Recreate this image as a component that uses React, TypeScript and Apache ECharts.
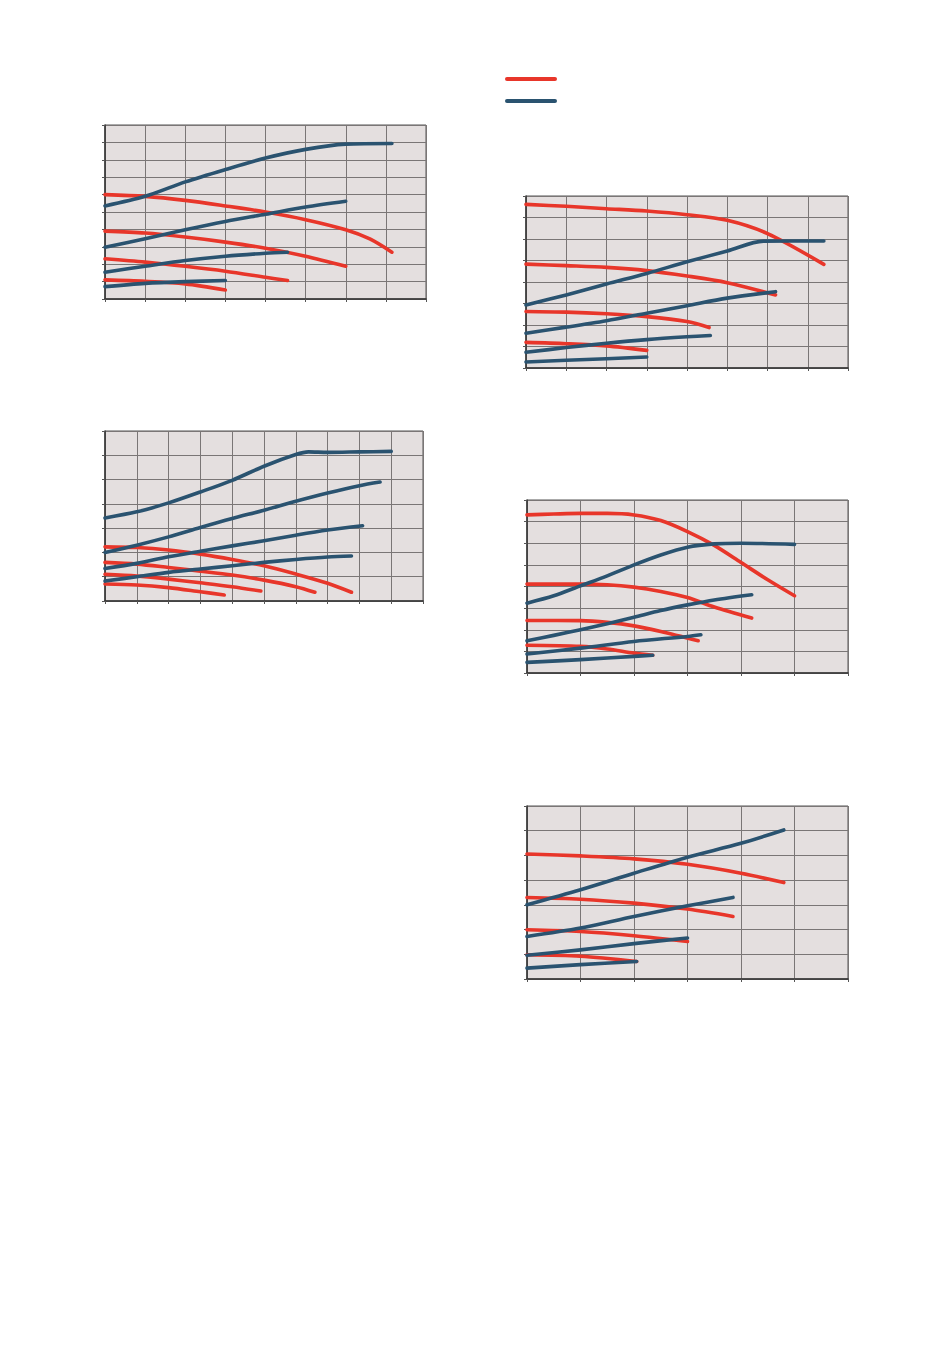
import React, { useEffect, useRef } from "react";
import * as echarts from "echarts";

// ---- Chart 1 (top left): x 0..8, y 0..10
const c1Blue1 = [[0, 5.35], [1, 5.9], [2, 6.73], [3, 7.44], [4, 8.1], [5, 8.6], [6, 8.9], [7.15, 8.94]];
const c1Red1 = [[0, 6.0], [1, 5.9], [2, 5.67], [3, 5.35], [4, 5.0], [5, 4.56], [6, 3.98], [6.6, 3.45], [7.15, 2.69]];
const c1Blue2 = [[0, 2.98], [1, 3.46], [2, 3.98], [3, 4.46], [4, 4.87], [5, 5.29], [6, 5.62]];
const c1Red2 = [[0, 3.9], [1, 3.79], [2, 3.56], [3, 3.27], [4, 2.92], [5, 2.46], [6, 1.88]];
const c1Blue3 = [[0, 1.54], [1, 1.88], [2, 2.21], [3, 2.46], [4, 2.63], [4.55, 2.69]];
const c1Red3 = [[0, 2.31], [1, 2.12], [2, 1.88], [3, 1.6], [4, 1.25], [4.55, 1.06]];
const c1Blue4 = [[0, 0.71], [1, 0.9], [2, 1.0], [3, 1.06]];
const c1Red4 = [[0, 1.1], [1, 1.02], [2, 0.87], [3, 0.52]];

// ---- Chart 2 (top right): x 0..8, y 0..8
const c2Red1 = [[0, 7.61], [1, 7.52], [2, 7.41], [3, 7.3], [4, 7.13], [5, 6.87], [6, 6.25], [7.4, 4.82]];
const c2Blue1 = [[0, 2.93], [1, 3.4], [2, 3.91], [3, 4.4], [4, 4.94], [5, 5.44], [5.9, 5.9], [7.4, 5.91]];
const c2Red2 = [[0, 4.83], [1, 4.76], [2, 4.68], [3, 4.53], [4, 4.28], [5, 3.97], [6.2, 3.4]];
const c2Blue2 = [[0, 1.62], [1, 1.9], [2, 2.2], [3, 2.55], [4, 2.9], [5, 3.25], [6.2, 3.55]];
const c2Red3 = [[0, 2.63], [1, 2.6], [2, 2.52], [3, 2.39], [4, 2.16], [4.55, 1.88]];
const c2Blue3 = [[0, 0.73], [1, 0.95], [2, 1.15], [3, 1.32], [4, 1.45], [4.58, 1.51]];
const c2Red4 = [[0, 1.19], [1, 1.13], [2, 1.03], [3, 0.82]];
const c2Blue4 = [[0, 0.28], [1, 0.36], [2, 0.43], [3, 0.51]];

// ---- Chart 3 (middle left): x 0..10, y 0..7
const c3Blue1 = [[0, 3.42], [1, 3.67], [2, 4.04], [3, 4.49], [4, 4.97], [5, 5.55], [6, 6.03], [6.4, 6.14], [7, 6.12], [8, 6.14], [9, 6.16]];
const c3Blue2 = [[0, 2.0], [1, 2.3], [2, 2.64], [3, 3.03], [4, 3.4], [5, 3.74], [6, 4.11], [7, 4.45], [8, 4.75], [8.65, 4.9]];
const c3Blue3 = [[0, 1.34], [1, 1.55], [2, 1.82], [3, 2.05], [4, 2.27], [5, 2.48], [6, 2.71], [7, 2.92], [8.1, 3.1]];
const c3Blue4 = [[0, 0.82], [1, 1.0], [2, 1.18], [3, 1.32], [4, 1.45], [5, 1.59], [6, 1.71], [7, 1.81], [7.75, 1.85]];
const c3Red1 = [[0, 2.23], [1, 2.2], [2, 2.1], [3, 1.93], [4, 1.71], [5, 1.45], [6, 1.11], [7, 0.73], [7.75, 0.36]];
const c3Red2 = [[0, 1.59], [1, 1.52], [2, 1.38], [3, 1.23], [4, 1.07], [5, 0.86], [6, 0.59], [6.6, 0.36]];
const c3Red3 = [[0, 1.1], [1, 1.03], [2, 0.9], [3, 0.75], [4, 0.59], [4.9, 0.41]];
const c3Red4 = [[0, 0.7], [1, 0.66], [2, 0.55], [3, 0.38], [3.75, 0.25]];

// ---- Chart 4 (middle right): x 0..6, y 0..8
const c4Red1 = [[0, 7.31], [0.5, 7.35], [1, 7.38], [1.5, 7.38], [2, 7.31], [2.5, 7.05], [3, 6.54], [3.5, 5.9], [4, 5.11], [4.5, 4.31], [5, 3.57]];
const c4Blue1 = [[0, 3.23], [0.5, 3.57], [1, 4.03], [1.5, 4.49], [2, 5.0], [2.5, 5.46], [3, 5.82], [3.5, 5.97], [4, 6.0], [5, 5.95]];
const c4Red2 = [[0, 4.11], [1, 4.11], [1.5, 4.08], [2, 3.97], [2.5, 3.77], [3, 3.49], [3.5, 3.05], [4.2, 2.54]];
const c4Blue2 = [[0, 1.49], [0.5, 1.74], [1, 2.0], [1.5, 2.28], [2, 2.58], [2.5, 2.89], [3, 3.15], [3.5, 3.38], [4.2, 3.62]];
const c4Red3 = [[0, 2.43], [1, 2.42], [1.5, 2.34], [2, 2.18], [2.5, 1.92], [3.2, 1.49]];
const c4Blue3 = [[0, 0.88], [1, 1.15], [2, 1.46], [3, 1.69], [3.25, 1.77]];
const c4Red4 = [[0, 1.28], [1, 1.23], [1.5, 1.11], [2, 0.92], [2.35, 0.82]];
const c4Blue4 = [[0, 0.49], [1, 0.62], [2, 0.77], [2.35, 0.82]];

// ---- Chart 5 (bottom right): x 0..6, y 0..7
const c5Red1 = [[0, 5.06], [1, 4.98], [2, 4.86], [3, 4.64], [4, 4.28], [4.8, 3.9]];
const c5Blue1 = [[0, 3.0], [1, 3.61], [2, 4.28], [3, 4.93], [4, 5.49], [4.8, 6.03]];
const c5Red2 = [[0, 3.3], [1, 3.23], [2, 3.07], [3, 2.83], [3.85, 2.53]];
const c5Blue2 = [[0, 1.72], [1, 2.06], [2, 2.53], [3, 2.96], [3.85, 3.3]];
const c5Red3 = [[0, 1.99], [1, 1.92], [2, 1.75], [3, 1.52]];
const c5Blue3 = [[0, 0.96], [1, 1.18], [2, 1.43], [3, 1.66]];
const c5Red4 = [[0, 0.98], [1, 0.92], [2.05, 0.71]];
const c5Blue4 = [[0, 0.44], [1, 0.58], [2.05, 0.71]];

const xMaxes = [8, 8, 10, 6, 6];
const yMaxes = [10, 8, 7, 8, 7];

const RED = "#e8362a";
const BLUE = "#2a5370";

const grids = [
  { left: 105, top: 125, width: 321, height: 174 },
  { left: 526, top: 196, width: 322, height: 172 },
  { left: 105, top: 431, width: 318, height: 170 },
  { left: 527, top: 500, width: 321, height: 173 },
  { left: 527, top: 806, width: 321, height: 173 },
];

const chartCurves = [
  [[c1Red1, RED], [c1Red2, RED], [c1Red3, RED], [c1Red4, RED], [c1Blue1, BLUE], [c1Blue2, BLUE], [c1Blue3, BLUE], [c1Blue4, BLUE]],
  [[c2Red1, RED], [c2Red2, RED], [c2Red3, RED], [c2Red4, RED], [c2Blue1, BLUE], [c2Blue2, BLUE], [c2Blue3, BLUE], [c2Blue4, BLUE]],
  [[c3Red1, RED], [c3Red2, RED], [c3Red3, RED], [c3Red4, RED], [c3Blue1, BLUE], [c3Blue2, BLUE], [c3Blue3, BLUE], [c3Blue4, BLUE]],
  [[c4Red1, RED], [c4Red2, RED], [c4Red3, RED], [c4Red4, RED], [c4Blue1, BLUE], [c4Blue2, BLUE], [c4Blue3, BLUE], [c4Blue4, BLUE]],
  [[c5Red1, RED], [c5Red2, RED], [c5Red3, RED], [c5Red4, RED], [c5Blue1, BLUE], [c5Blue2, BLUE], [c5Blue3, BLUE], [c5Blue4, BLUE]],
];

export default function App() {
  const ref = useRef<HTMLDivElement>(null);
  useEffect(() => {
    if (!ref.current) return;
    const chart = echarts.init(ref.current, undefined, { renderer: "svg" });
    const axisCommon = {
      axisLabel: { show: false },
      axisTick: { show: true, inside: false, length: 3, lineStyle: { color: "#555", width: 1 } },
      axisLine: { show: true, onZero: false, lineStyle: { color: "#333", width: 1.5 } },
      splitLine: { show: true, lineStyle: { color: "#7a7676", width: 1 } },
    };
    const series: any[] = [];
    chartCurves.forEach((curves, gi) => {
      curves.forEach(([data, color]: any) => {
        series.push({
          type: "line",
          xAxisIndex: gi,
          yAxisIndex: gi,
          data,
          smooth: 0.3,
          showSymbol: false,
          symbol: "none",
          silent: true,
          lineStyle: { color, width: 3.6, cap: "round", join: "round" },
        });
      });
    });
    chart.setOption({
      animation: false,
      grid: grids.map((g) => ({
        ...g,
        show: true,
        backgroundColor: "#e4dfdf",
        borderColor: "#555",
        borderWidth: 1,
      })),
      xAxis: grids.map((_, i) => ({
        type: "value",
        gridIndex: i,
        min: 0,
        max: xMaxes[i],
        interval: 1,
        ...axisCommon,
      })),
      yAxis: grids.map((_, i) => ({
        type: "value",
        gridIndex: i,
        min: 0,
        max: yMaxes[i],
        interval: 1,
        ...axisCommon,
      })),
      graphic: [
        { type: "line", shape: { x1: 507, y1: 79, x2: 555, y2: 79 }, style: { stroke: RED, lineWidth: 4, lineCap: "round" } },
        { type: "line", shape: { x1: 507, y1: 101, x2: 555, y2: 101 }, style: { stroke: BLUE, lineWidth: 4, lineCap: "round" } },
      ],
      series,
    });
    return () => chart.dispose();
  }, []);
  return (
    <div
      ref={ref}
      style={{ position: "absolute", left: 0, top: 0, width: 950, height: 1360, background: "#fff" }}
    />
  );
}
